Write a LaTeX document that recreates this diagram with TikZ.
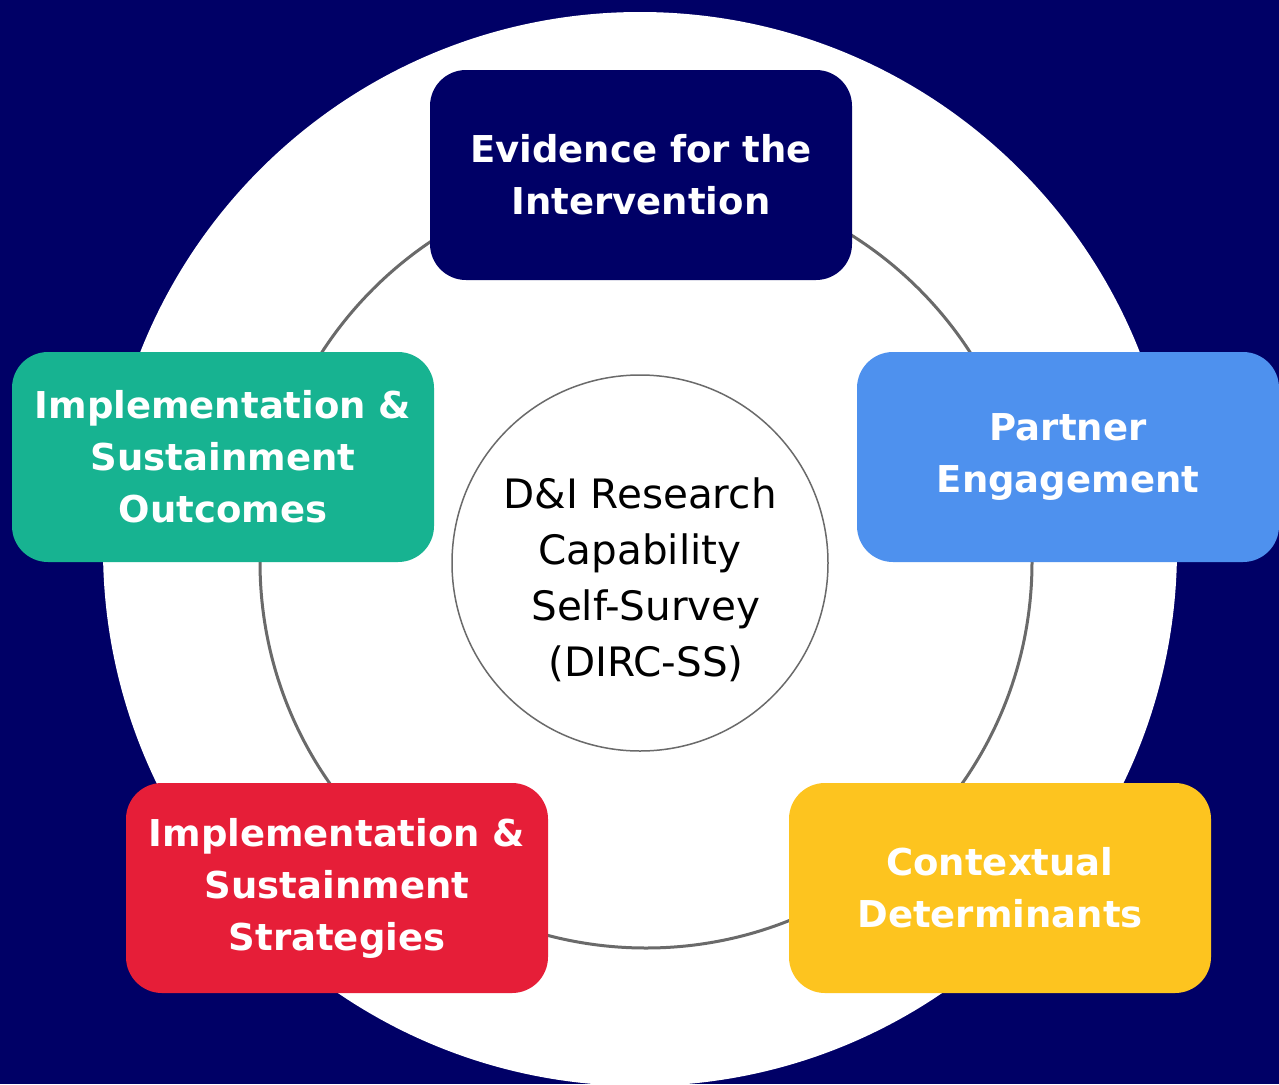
\documentclass[tikz,border=0pt]{standalone}
\usepackage{fontspec}
\setmainfont{DejaVu Sans}
\usepackage{tikz}
\usetikzlibrary{shapes,arrows}
\definecolor{navy}{HTML}{000066}
\definecolor{partnerblue}{HTML}{4E91EE}
\definecolor{outteal}{HTML}{17B391}
\definecolor{stratred}{HTML}{E61E38}
\definecolor{ctxyellow}{HTML}{FDC41F}
\definecolor{ringgray}{HTML}{6A6A6A}

\begin{document}
\begin{tikzpicture}[x=1pt,y=-1pt]
			\tikzset{domainbox/.style = {shape=rectangle,rounded corners=36pt,minimum width=422pt,minimum height=210pt,align=center,text=white,font=\fontsize{37}{52}\selectfont\bfseries}}
			
			\tikzset{hub/.style = {shape=circle,draw=ringgray,line width=1.5pt,fill=white,minimum size=376pt}}
			
			\tikzset{hubtext/.style = {align=center,font=\fontsize{40.5}{56}\selectfont}}
			
			\tikzset{ringline/.style = {draw=ringgray,line width=3pt}}
			
			% background
			\useasboundingbox (0,0) rectangle (1279,1084);
			\fill[navy] (0,0) rectangle (1279,1084);
			\fill[white] (640,549) circle (537pt);
			\draw[ringline] (646,562) circle (386pt);
			
			% hub
			\node[hub] (hub) at (640,563) {};
			\node[hubtext] (hubtext) at (640,580) {D\&I Research\\Capability\\\hspace{12pt}Self-Survey\\\hspace{12pt}(DIRC-SS)};
			
			% domains
			\node[domainbox,fill=navy] (evidence) at (641,175) {Evidence for the\\Intervention};
			
			\node[domainbox,fill=partnerblue] (partner) at (1068,457) {Partner\\Engagement};
			
			\node[domainbox,fill=ctxyellow] (context) at (1000,888) {Contextual\\Determinants};
			
			\node[domainbox,fill=stratred] (strategies) at (337,888) {Implementation \&\\Sustainment\\Strategies};
			
			\node[domainbox,fill=outteal] (outcomes) at (223,457) {Implementation \&\\Sustainment\\Outcomes};
			\end{tikzpicture}
\end{document}
